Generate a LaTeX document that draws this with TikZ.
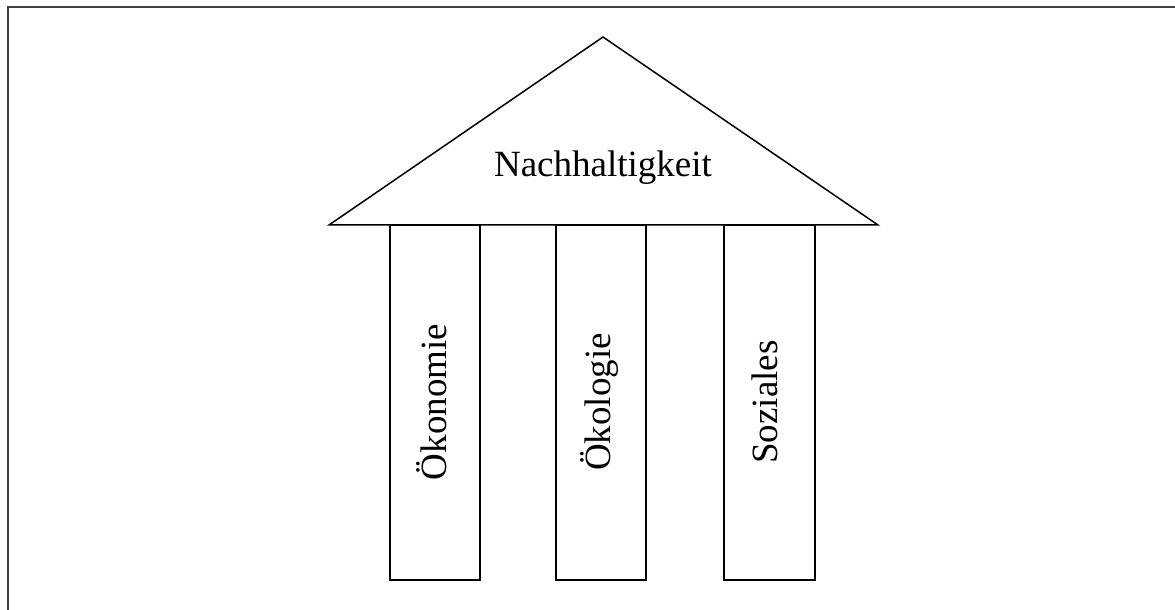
\documentclass[tikz,border=0pt]{standalone}
\usepackage{fontspec}
\setmainfont{Liberation Serif}
\begin{document}
\begin{tikzpicture}[x=0.5pt,y=-0.5pt,line width=0.75pt,
    saeule/.style={draw,fill=white},
    wort/.style={font=\fontsize{18.5}{22}\selectfont,inner sep=0pt}]
                \useasboundingbox (0,0) rectangle (1175,610);
                % Rahmen
                \draw [line width=0.9pt,black!75] (8,610) -- (8,7) -- (1175,7) ;
                % Dach
                \draw (329,225) -- (603,37) -- (878,225) -- cycle ;
                \node [wort] (dach) at (603,168) {Nachhaltigkeit} ;
                % Saeulen
                \draw [saeule] (390,225) rectangle (480,580) ;
                \draw [saeule] (556,225) rectangle (646,580) ;
                \draw [saeule] (724,225) rectangle (815,580) ;
                \node [wort,rotate=90,anchor=base] (oekonomie) at (446,402) {Ökonomie} ;
                \node [wort,rotate=90,anchor=base] (oekologie) at (610,402) {Ökologie} ;
                \node [wort,rotate=90,anchor=base] (soziales) at (777,402) {Soziales} ;
\end{tikzpicture}
\end{document}
